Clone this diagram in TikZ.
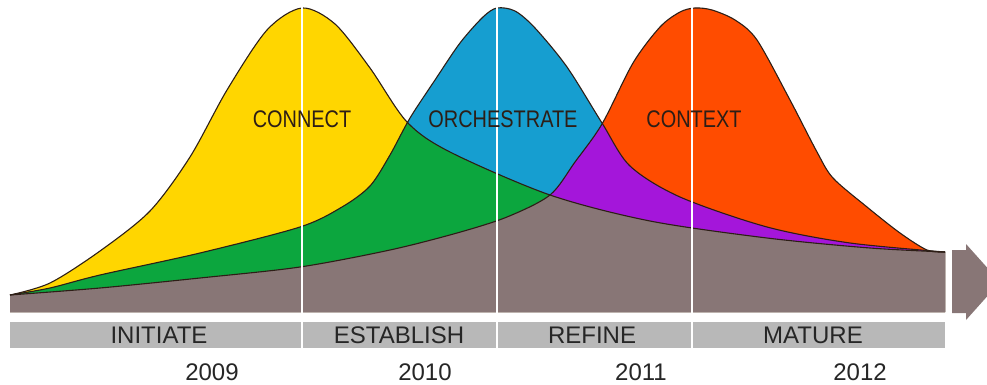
\documentclass[tikz,border=0pt]{standalone}
\usepackage{fontspec}
\setmainfont{Liberation Sans}
\newfontfamily\narrowfont[FakeStretch=0.83]{Liberation Sans}
\usepackage{tikz}

\definecolor{connectyellow}{RGB}{255,214,0}
\definecolor{orchblue}{RGB}{22,158,208}
\definecolor{contextred}{RGB}{255,76,0}
\definecolor{overlapgreen}{RGB}{12,166,62}
\definecolor{overlappurple}{RGB}{164,22,218}
\definecolor{basebrown}{RGB}{136,118,118}
\definecolor{bandgray}{RGB}{184,184,184}
\definecolor{outline}{RGB}{45,30,22}

% the three waves, in pixels of the picture
\newcommand{\connectwave}{plot[smooth] coordinates {(10,295) (50,283) (100,251) (150,211) (190,157) (227,90) (267,30) (302,8) (335,24) (370,68) (407,122) (450,152) (550,195) (650,221) (767,238) (870,248) (945,252)}}
\newcommand{\orchwave}{plot[smooth] coordinates {(10,295) (50,288) (100,275) (200,253) (300,227) (342,207) (370,186) (390,155) (410,118) (435,80) (460,43) (483,17) (497,8) (515,11) (535,28) (567,67) (602,123) (630,166) (680,197) (767,227) (850,243) (945,252)}}
\newcommand{\contextwave}{plot[smooth] coordinates {(10,295) (100,288) (200,278) (300,267) (390,250) (457,233) (507,217) (550,195) (575,162) (602,124) (633,63) (660,27) (680,12) (695,8) (712,10) (735,20) (757,40) (790,100) (817,152) (833,178) (867,207) (900,233) (927,250) (945,252)}}
\newcommand{\wavebase}{-- (945,312) -- (10,312) -- cycle}

\begin{document}
\begin{tikzpicture}[x=1pt,y=-1pt]
\tikzset{wave/.style = {draw=outline,line width=1.1pt}}
\tikzset{divider/.style = {draw=white,line width=2pt}}
\tikzset{phase/.style = {font=\fontsize{24}{28}\selectfont,text=black!85}}
\tikzset{wavename/.style = {font=\narrowfont\fontsize{24}{28}\selectfont,text=outline}}
\useasboundingbox (0,0) rectangle (987,385);
% arrow
\fill[basebrown] (952,250) -- (966,250) -- (966,244) -- (1000,282) -- (966,320) -- (966,313) -- (952,313) -- cycle;
% waves
\fill[connectyellow] \connectwave \wavebase;
\fill[orchblue] \orchwave \wavebase;
\fill[contextred] \contextwave \wavebase;
% overlaps
\begin{scope}
\clip \connectwave \wavebase;
\fill[overlapgreen] \orchwave \wavebase;
\end{scope}
\begin{scope}
\clip \orchwave \wavebase;
\fill[overlappurple] \contextwave \wavebase;
\end{scope}
\begin{scope}
\clip \connectwave \wavebase;
\fill[basebrown] \contextwave \wavebase;
\end{scope}
\draw[wave] \connectwave;
\draw[wave] \orchwave;
\draw[wave] \contextwave;
% phase band
\fill[bandgray] (10,322) rectangle (945,348);
\foreach \x in {302,497,692}
  \draw[divider] (\x,4) -- (\x,348);
% labels
\node[wavename] (connect) at (302,119) {CONNECT};
\node[wavename] (orchestrate) at (503,119) {ORCHESTRATE};
\node[wavename] (context) at (694,119) {CONTEXT};
\node[phase] (initiate) at (159,335) {INITIATE};
\node[phase] (establish) at (399,335) {ESTABLISH};
\node[phase] (refine) at (592,335) {REFINE};
\node[phase] (mature) at (813,335) {MATURE};
\node[phase] (y2009) at (212,372) {2009};
\node[phase] (y2010) at (425,372) {2010};
\node[phase] (y2011) at (641,372) {2011};
\node[phase] (y2012) at (860,372) {2012};
\end{tikzpicture}
\end{document}
